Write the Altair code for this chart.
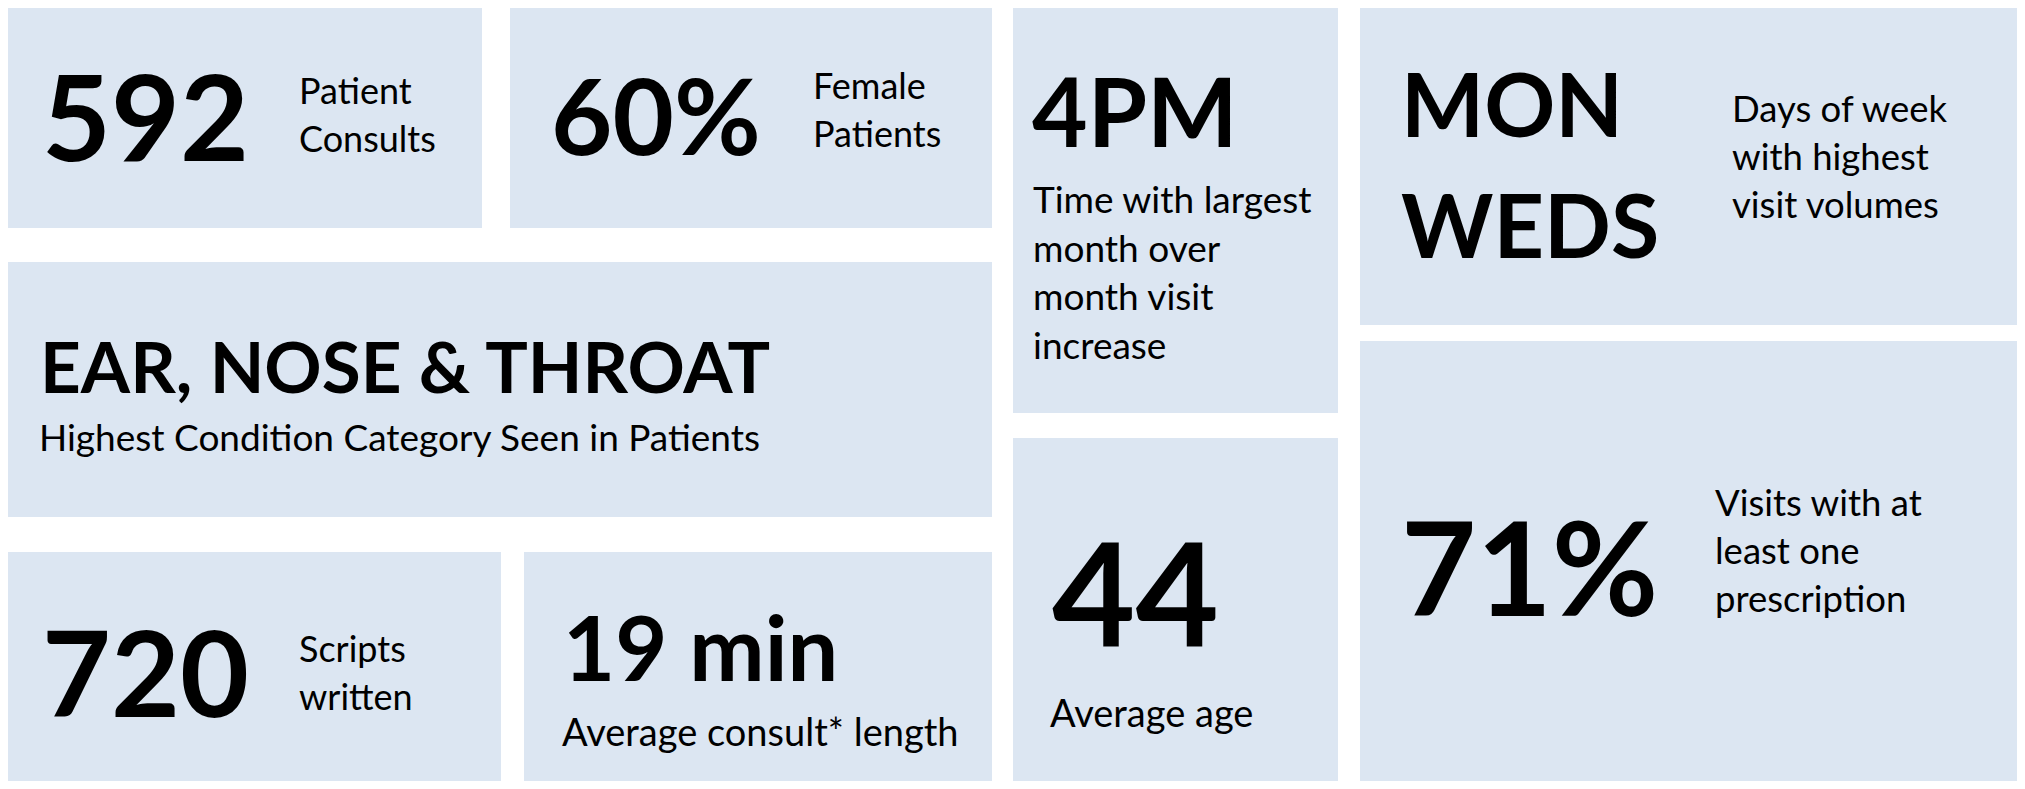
import altair as alt
import pandas as pd

# ---- KPI content ----
values = ["592", "60%", "EAR, NOSE & THROAT", "720", "19 min", "4PM", "44", "MON\nWEDS", "71%"]
labels = [
    "Patient\nConsults",
    "Female\nPatients",
    "Highest Condition Category Seen in Patients",
    "Scripts\nwritten",
    "Average consult* length",
    "Time with largest\nmonth over\nmonth visit\nincrease",
    "Average age",
    "Days of week\nwith highest\nvisit volumes",
    "Visits with at\nleast one\nprescription",
]

# ---- layout (pixels of the 2025x789 canvas) ----
tile_x0 = [0, 510, 0, 0, 524, 1013, 1013, 1360, 1360]
tile_x1 = [482, 992, 992, 501, 992, 1338, 1338, 2025, 2025]
tile_y0 = [0, 0, 262, 552, 552, 0, 438, 0, 341]
tile_y1 = [228, 228, 517, 789, 789, 413, 789, 325, 785]

# value: x, first baseline, font size, line height
val_x = [42, 551, 40, 42, 563, 1032, 1052, 1401, 1401]
val_y = [161, 155, 393, 717, 681, 147, 646, 137, 616]
val_fs = [119, 106, 71, 119, 90, 96, 144, 88, 130]
val_lh = [0, 0, 0, 0, 0, 0, 0, 121, 0]

lab_x = [299, 813, 39, 299, 562, 1033, 1050, 1732, 1715]
lab_y = [104, 99, 451, 662, 746, 213, 727, 122, 516]
lab_fs = [36, 36, 37, 36, 38, 37, 38, 36.5, 36.5]
lab_lh = [48, 48, 0, 48, 0, 48.5, 0, 48, 48]

FONT = "Lato"
TILE = "#DCE6F2"

tiles = pd.DataFrame({"x0": tile_x0, "x1": tile_x1, "y0": tile_y0, "y1": tile_y1})


def rows(texts, xs, ys, fss, lhs):
    out = []
    for t, x, y, fs, lh in zip(texts, xs, ys, fss, lhs):
        for i, line in enumerate(t.split("\n")):
            out.append({"t": line, "x": x, "y": y + i * lh, "fs": fs})
    return pd.DataFrame(out)


vdf = rows(values, val_x, val_y, val_fs, val_lh)
ldf = rows(labels, lab_x, lab_y, lab_fs, lab_lh)

W, H = 2009, 773
xs = alt.Scale(domain=[8, 8 + W], nice=False, zero=False)
ys = alt.Scale(domain=[8, 8 + H], nice=False, zero=False, reverse=True)

rect = alt.Chart(tiles).mark_rect(color=TILE, clip=True).encode(
    x=alt.X("x0:Q", scale=xs, axis=None),
    x2="x1:Q",
    y=alt.Y("y0:Q", scale=ys, axis=None),
    y2="y1:Q",
)

vtext = alt.Chart(vdf).mark_text(
    font=FONT, fontWeight="bold", align="left", baseline="alphabetic", color="#000000"
).encode(
    x=alt.X("x:Q", scale=xs, axis=None),
    y=alt.Y("y:Q", scale=ys, axis=None),
    text="t:N",
    size=alt.Size("fs:Q", scale=None, legend=None),
)

ltext = alt.Chart(ldf).mark_text(
    font=FONT, fontWeight="normal", align="left", baseline="alphabetic", color="#000000"
).encode(
    x=alt.X("x:Q", scale=xs, axis=None),
    y=alt.Y("y:Q", scale=ys, axis=None),
    text="t:N",
    size=alt.Size("fs:Q", scale=None, legend=None),
)

chart = (
    alt.layer(rect, vtext, ltext)
    .properties(width=W, height=H, padding=0, autosize=alt.AutoSizeParams(type="none"))
    .configure_view(strokeWidth=0)
)

chart.save("out.html", embed_options={"renderer": "svg", "actions": False})
